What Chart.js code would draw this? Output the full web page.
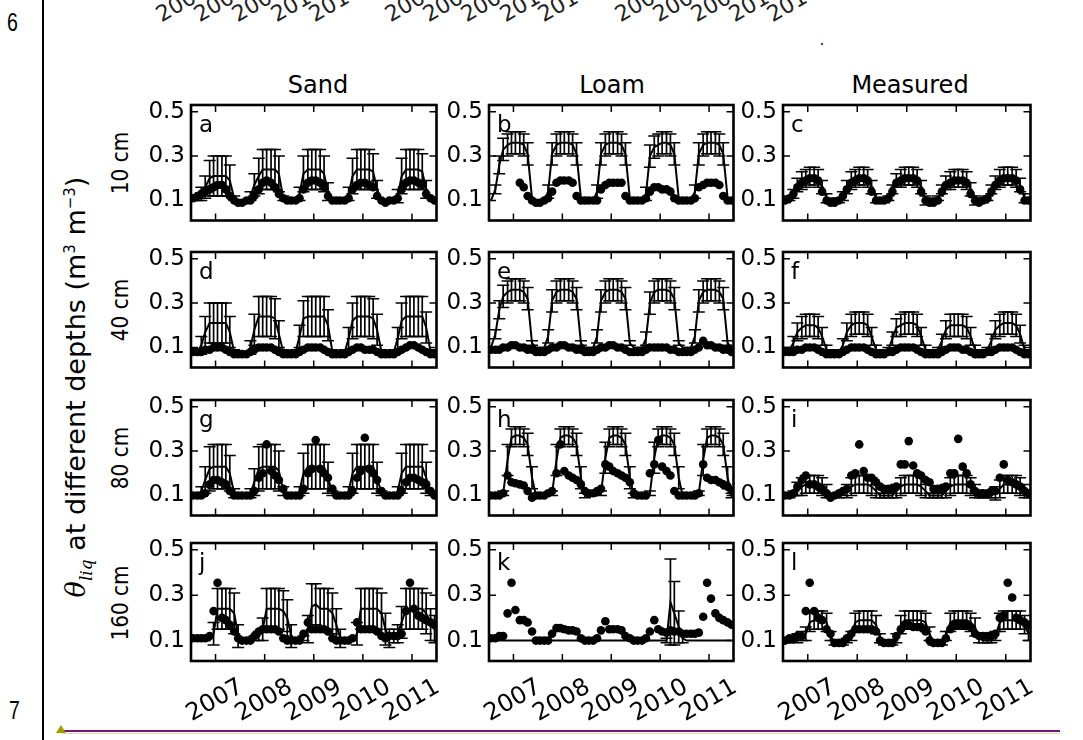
<!DOCTYPE html>
<html><head><meta charset="utf-8">
<script src="https://cdn.jsdelivr.net/npm/chart.js@4.4.0/dist/chart.umd.min.js"></script>
<style>
html,body{margin:0;padding:0;}
body{width:1083px;height:740px;background:#fff;overflow:hidden;position:relative;font-family:"DejaVu Sans",sans-serif;color:#000;}
canvas{position:absolute;}
.abs{position:absolute;white-space:nowrap;}
.rot{transform:translate(-50%,-50%) rotate(-90deg);}
.ctr{transform:translate(-50%,-50%);}
.cut{transform:translate(-50%,-50%) rotate(-30deg);font-size:22px;color:#222;}
.dep{font-size:20px;transform:translate(-50%,-50%) rotate(-90deg) scaleY(1.15);}
</style></head><body>
<div class="abs" style="left:7px;top:7px;font:26px 'Liberation Sans';transform:scaleX(0.75);transform-origin:left top;">6</div>
<div class="abs" style="left:9px;top:695px;font:26px 'Liberation Sans';transform:scaleX(0.75);transform-origin:left top;">7</div>
<div class="abs" style="left:42px;top:0;width:2px;height:740px;background:#000;"></div>
<div class="abs" style="left:62px;top:730px;width:998px;height:2px;background:#7d0f7d;"></div>
<div class="abs" style="left:62px;top:733px;width:998px;height:1px;background:#e6dc9a;"></div>
<div class="abs" style="left:56px;top:725px;width:0;height:0;border-left:5px solid transparent;border-right:5px solid transparent;border-bottom:8px solid #a39a00;"></div>
<div class="abs" style="left:821px;top:43px;width:2px;height:2px;background:#7d0f7d;"></div>

<div class="abs ctr" style="left:318px;top:85px;font-size:24px;">Sand</div>
<div class="abs ctr" style="left:612px;top:85px;font-size:24px;">Loam</div>
<div class="abs ctr" style="left:910px;top:85px;font-size:24px;">Measured</div>

<div class="abs dep" style="left:120px;top:163px;">10 cm</div>
<div class="abs dep" style="left:120px;top:310px;">40 cm</div>
<div class="abs dep" style="left:120px;top:458px;">80 cm</div>
<div class="abs dep" style="left:120px;top:603px;">160 cm</div>
<div class="abs rot" style="left:78px;top:387px;font-size:27px;"><i style="font-family:'DejaVu Serif'">θ</i><sub style="font-family:'DejaVu Serif';font-style:italic;font-size:17px;">liq</sub> at different depths (m<sup style="font-size:15px">3</sup> m<sup style="font-size:15px">−3</sup>)</div>

<script>
// ---------- data ----------
const yearLabels = ['2007','2008','2009','2010','2011'];
const xTickValues = [2007,2008,2009,2010,2011];
const yTickValues = [0.1,0.3,0.5];
const yTickLabels = ['0.1','0.3','0.5'];
const columnTitles = ['Sand','Loam','Measured'];
const depthLabels = ['10 cm','40 cm','80 cm','160 cm'];
const topCutX = [182,220,258,297,335,411,449,487,526,564,641,679,717,755,793];

const months = [
2006.54,2006.63,2006.71,2006.79,2006.88,2006.96,2007.04,2007.13,2007.21,2007.29,2007.38,2007.46,
2007.54,2007.63,2007.71,2007.79,2007.88,2007.96,2008.04,2008.13,2008.21,2008.29,2008.38,2008.46,
2008.54,2008.63,2008.71,2008.79,2008.88,2008.96,2009.04,2009.13,2009.21,2009.29,2009.38,2009.46,
2009.54,2009.63,2009.71,2009.79,2009.88,2009.96,2010.04,2010.13,2010.21,2010.29,2010.38,2010.46,
2010.54,2010.63,2010.71,2010.79,2010.88,2010.96,2011.04,2011.13,2011.21,2011.29,2011.38,2011.46];

// a: Sand 10 cm
const lineA = [
0.10,0.11,0.13,0.16,0.20,0.21,0.21,0.21,0.21,0.19,0.11,0.10,
0.10,0.10,0.12,0.17,0.21,0.24,0.24,0.24,0.24,0.22,0.11,0.10,
0.10,0.10,0.13,0.22,0.24,0.24,0.24,0.24,0.22,0.14,0.10,0.10,
0.10,0.10,0.13,0.21,0.24,0.24,0.24,0.24,0.23,0.15,0.10,0.10,
0.10,0.10,0.12,0.21,0.24,0.24,0.24,0.24,0.23,0.15,0.10,0.10];
const errA = [
0,0.01,0.03,0.05,0.08,0.09,0.09,0.09,0.09,0.07,0.01,0,
0,0,0.02,0.05,0.08,0.09,0.09,0.09,0.09,0.08,0.01,0,
0,0,0.03,0.08,0.09,0.09,0.09,0.09,0.08,0.04,0,0,
0,0,0.03,0.08,0.09,0.09,0.09,0.09,0.08,0.04,0,0,
0,0,0.03,0.08,0.09,0.09,0.09,0.09,0.08,0.04,0,0];
const dotsA = [
0.11,0.12,0.13,0.14,0.15,0.16,0.17,0.17,0.15,0.12,0.10,0.09,
0.09,0.10,0.10,0.12,0.15,0.18,0.19,0.18,0.16,0.13,0.11,0.10,
0.10,0.10,0.11,0.15,0.18,0.19,0.19,0.18,0.16,0.12,0.10,0.10,
0.10,0.10,0.11,0.15,0.17,0.18,0.18,0.17,0.16,0.12,0.10,0.09,
0.10,0.10,0.11,0.15,0.18,0.19,0.19,0.18,0.17,0.13,0.11,0.10];

// b: Loam 10 cm
const lineB = [
0.10,0.15,0.26,0.33,0.35,0.36,0.36,0.36,0.35,0.31,0.11,0.10,
0.10,0.10,0.14,0.31,0.35,0.36,0.36,0.36,0.35,0.31,0.11,0.10,
0.10,0.10,0.14,0.31,0.35,0.36,0.36,0.36,0.35,0.31,0.11,0.10,
0.10,0.10,0.13,0.30,0.34,0.35,0.36,0.36,0.35,0.31,0.11,0.10,
0.10,0.10,0.14,0.31,0.35,0.36,0.36,0.36,0.35,0.31,0.11,0.10];
const errB = [
0,0.02,0.04,0.05,0.05,0.05,0.05,0.05,0.05,0.05,0,0,
0,0,0.03,0.05,0.05,0.05,0.05,0.05,0.05,0.05,0,0,
0,0,0.03,0.05,0.05,0.05,0.05,0.05,0.05,0.05,0,0,
0,0,0.03,0.05,0.05,0.05,0.05,0.05,0.05,0.05,0,0,
0,0,0.03,0.05,0.05,0.05,0.05,0.05,0.05,0.05,0,0];
const dotsB = [
null,null,null,null,null,null,null,0.18,0.16,0.12,0.10,0.09,
0.09,0.10,0.11,0.14,0.18,0.19,0.19,0.19,0.18,0.12,0.10,0.10,
0.10,0.10,0.10,0.15,0.17,0.18,0.18,0.18,0.18,0.12,0.10,0.10,
0.10,0.10,0.11,0.14,0.16,0.16,0.15,0.15,0.14,0.11,0.10,0.10,
0.10,0.10,0.11,0.16,0.17,0.18,0.18,0.18,0.17,0.12,0.10,0.10];

// c: Measured 10 cm
const lineC = [
0.10,0.11,0.13,0.17,0.19,0.20,0.21,0.21,0.20,0.16,0.11,0.10,
0.10,0.10,0.12,0.16,0.19,0.20,0.21,0.21,0.20,0.16,0.11,0.10,
0.10,0.11,0.15,0.19,0.20,0.21,0.21,0.21,0.20,0.16,0.10,0.10,
0.10,0.11,0.15,0.18,0.19,0.20,0.20,0.20,0.19,0.15,0.10,0.10,
0.10,0.11,0.15,0.18,0.20,0.21,0.21,0.21,0.20,0.17,0.11,0.10];
const errC = [
0.01,0.01,0.02,0.03,0.04,0.04,0.04,0.04,0.04,0.03,0.02,0.01,
0.01,0.01,0.02,0.03,0.04,0.04,0.04,0.04,0.04,0.03,0.02,0.01,
0.01,0.01,0.02,0.03,0.04,0.04,0.04,0.04,0.04,0.03,0.02,0.01,
0.01,0.01,0.02,0.03,0.04,0.04,0.04,0.04,0.04,0.03,0.02,0.01,
0.01,0.01,0.02,0.03,0.04,0.04,0.04,0.04,0.04,0.03,0.02,0.01];
const dotsC = [
0.10,0.11,0.13,0.16,0.18,0.19,0.20,0.20,0.19,0.14,0.10,0.09,
0.09,0.10,0.12,0.15,0.18,0.19,0.20,0.20,0.19,0.14,0.10,0.10,
0.10,0.11,0.14,0.18,0.19,0.20,0.20,0.20,0.19,0.14,0.10,0.09,
0.09,0.10,0.14,0.17,0.18,0.19,0.19,0.19,0.18,0.13,0.10,0.09,
0.10,0.11,0.14,0.17,0.19,0.20,0.20,0.20,0.19,0.15,0.10,0.10];

// d: Sand 40 cm
const lineD = [
0.07,0.08,0.11,0.17,0.21,0.21,0.21,0.21,0.21,0.17,0.08,0.07,
0.07,0.07,0.10,0.18,0.24,0.24,0.24,0.24,0.23,0.16,0.08,0.07,
0.07,0.08,0.15,0.23,0.24,0.24,0.24,0.24,0.24,0.20,0.08,0.07,
0.07,0.08,0.14,0.22,0.24,0.24,0.24,0.24,0.23,0.18,0.08,0.07,
0.07,0.08,0.14,0.22,0.24,0.24,0.24,0.24,0.24,0.19,0.08,0.07];
const errD = [
0,0.01,0.04,0.07,0.09,0.09,0.09,0.09,0.09,0.07,0.01,0,
0,0,0.03,0.07,0.09,0.09,0.09,0.09,0.09,0.06,0.01,0,
0,0.01,0.05,0.08,0.09,0.09,0.09,0.09,0.09,0.07,0.01,0,
0,0.01,0.05,0.08,0.09,0.09,0.09,0.09,0.09,0.07,0.01,0,
0,0.01,0.05,0.08,0.09,0.09,0.09,0.09,0.09,0.07,0.01,0];
const dotsD = [
0.08,0.08,0.08,0.09,0.09,0.10,0.10,0.10,0.09,0.08,0.07,0.07,
0.07,0.07,0.08,0.09,0.10,0.10,0.10,0.10,0.09,0.08,0.07,0.07,
0.07,0.07,0.08,0.09,0.10,0.10,0.10,0.10,0.09,0.08,0.07,0.07,
0.07,0.07,0.08,0.09,0.10,0.10,0.09,0.09,0.09,0.08,0.07,0.07,
0.07,0.07,0.08,0.09,0.10,0.11,0.11,0.10,0.09,0.08,0.07,0.07];

// e: Loam 40 cm
const lineE = [
0.10,0.16,0.27,0.33,0.35,0.36,0.36,0.36,0.35,0.32,0.12,0.10,
0.10,0.10,0.15,0.31,0.35,0.36,0.36,0.36,0.35,0.32,0.12,0.10,
0.10,0.10,0.15,0.31,0.35,0.36,0.36,0.36,0.35,0.32,0.12,0.10,
0.10,0.10,0.14,0.30,0.35,0.36,0.36,0.36,0.35,0.32,0.12,0.10,
0.10,0.10,0.15,0.31,0.35,0.36,0.36,0.36,0.35,0.32,0.12,0.10];
const errE = [
0,0.02,0.04,0.05,0.05,0.05,0.05,0.05,0.05,0.05,0.01,0,
0,0,0.03,0.05,0.05,0.05,0.05,0.05,0.05,0.05,0.01,0,
0,0,0.03,0.05,0.05,0.05,0.05,0.05,0.05,0.05,0.01,0,
0,0,0.03,0.05,0.05,0.05,0.05,0.05,0.05,0.05,0.01,0,
0,0,0.03,0.05,0.05,0.05,0.05,0.05,0.05,0.05,0.01,0];
const dotsE = [
0.09,0.09,0.09,0.10,0.10,0.11,0.11,0.10,0.10,0.09,0.09,0.08,
0.08,0.08,0.09,0.10,0.10,0.11,0.11,0.10,0.10,0.09,0.09,0.08,
0.08,0.08,0.09,0.10,0.10,0.11,0.11,0.10,0.10,0.09,0.08,0.08,
0.08,0.08,0.09,0.10,0.10,0.10,0.10,0.10,0.09,0.09,0.08,0.08,
0.08,0.08,0.09,0.10,0.13,0.11,0.11,0.10,0.10,0.09,0.09,0.08];

// f: Measured 40 cm
const lineF = [
0.08,0.09,0.12,0.17,0.19,0.20,0.20,0.20,0.19,0.15,0.09,0.08,
0.08,0.08,0.11,0.17,0.20,0.21,0.21,0.21,0.20,0.15,0.09,0.08,
0.08,0.09,0.14,0.19,0.20,0.21,0.21,0.21,0.20,0.15,0.09,0.08,
0.08,0.09,0.13,0.18,0.20,0.20,0.20,0.20,0.19,0.15,0.09,0.08,
0.08,0.09,0.13,0.18,0.20,0.21,0.21,0.21,0.20,0.16,0.09,0.08];
const errF = [
0.01,0.01,0.03,0.04,0.05,0.05,0.05,0.05,0.05,0.04,0.02,0.01,
0.01,0.01,0.03,0.04,0.05,0.05,0.05,0.05,0.05,0.04,0.02,0.01,
0.01,0.01,0.03,0.04,0.05,0.05,0.05,0.05,0.05,0.04,0.02,0.01,
0.01,0.01,0.03,0.04,0.05,0.05,0.05,0.05,0.05,0.04,0.02,0.01,
0.01,0.01,0.03,0.04,0.05,0.05,0.05,0.05,0.05,0.04,0.02,0.01];
const dotsF = [
0.08,0.08,0.08,0.09,0.09,0.10,0.10,0.10,0.09,0.08,0.07,0.07,
0.07,0.07,0.08,0.09,0.10,0.10,0.10,0.10,0.09,0.08,0.07,0.07,
0.07,0.08,0.08,0.09,0.10,0.10,0.10,0.10,0.09,0.08,0.07,0.07,
0.07,0.07,0.08,0.09,0.10,0.10,0.10,0.09,0.09,0.08,0.07,0.07,
0.07,0.08,0.08,0.09,0.10,0.10,0.10,0.10,0.09,0.08,0.07,0.07];

// g: Sand 80 cm
const lineG = [
0.10,0.10,0.12,0.17,0.22,0.23,0.23,0.23,0.23,0.20,0.11,0.10,
0.10,0.10,0.11,0.16,0.22,0.23,0.23,0.23,0.23,0.21,0.12,0.10,
0.10,0.10,0.12,0.20,0.23,0.23,0.23,0.23,0.23,0.18,0.11,0.10,
0.10,0.10,0.12,0.20,0.23,0.23,0.23,0.23,0.23,0.18,0.11,0.10,
0.10,0.10,0.12,0.20,0.23,0.23,0.23,0.23,0.23,0.18,0.11,0.10];
const errG = [
0,0,0.02,0.06,0.10,0.10,0.10,0.10,0.10,0.08,0.02,0,
0,0,0.02,0.06,0.10,0.10,0.10,0.10,0.10,0.09,0.02,0,
0,0,0.02,0.09,0.10,0.10,0.10,0.10,0.10,0.07,0.01,0,
0,0,0.02,0.09,0.10,0.10,0.10,0.10,0.10,0.07,0.01,0,
0,0,0.02,0.09,0.10,0.10,0.10,0.10,0.10,0.07,0.01,0];
const dotsG = [
0.10,0.10,0.10,0.11,0.15,0.17,0.17,0.16,0.15,0.12,0.10,0.10,
0.10,0.10,0.10,0.12,0.18,0.20,0.33,0.21,0.19,0.17,0.13,0.10,
0.10,0.10,0.10,0.13,0.20,0.22,0.35,0.22,0.20,0.18,0.13,0.10,
0.10,0.10,0.10,0.12,0.18,0.21,0.36,0.22,0.20,0.17,0.12,0.10,
0.10,0.10,0.10,0.12,0.16,0.18,0.18,0.17,0.16,0.15,0.12,0.10];

// h: Loam 80 cm
const lineH = [
0.10,0.10,0.10,0.11,0.26,0.36,0.37,0.37,0.36,0.33,0.18,0.10,
0.10,0.10,0.10,0.11,0.26,0.36,0.37,0.37,0.36,0.33,0.18,0.10,
0.10,0.10,0.10,0.11,0.27,0.36,0.37,0.37,0.36,0.33,0.18,0.10,
0.10,0.10,0.10,0.11,0.27,0.36,0.37,0.37,0.36,0.33,0.18,0.10,
0.10,0.10,0.10,0.11,0.26,0.36,0.37,0.37,0.36,0.33,0.18,0.10];
const errH = [
0,0,0,0.01,0.07,0.04,0.04,0.04,0.04,0.05,0.05,0.01,
0,0,0,0.01,0.07,0.04,0.04,0.04,0.04,0.05,0.05,0.01,
0,0,0,0.01,0.07,0.04,0.04,0.04,0.04,0.05,0.05,0.01,
0,0,0,0.01,0.07,0.04,0.04,0.04,0.04,0.05,0.05,0.01,
0,0,0,0.01,0.07,0.04,0.04,0.04,0.04,0.05,0.05,0.01];
const dotsH = [
0.10,0.10,0.10,0.11,0.19,0.16,0.155,0.15,0.145,0.12,0.09,0.10,
0.10,0.10,0.11,0.12,0.20,0.33,0.21,0.19,0.18,0.17,0.15,0.12,
0.11,0.11,0.12,0.13,0.24,0.23,0.21,0.20,0.19,0.18,0.16,0.11,
0.10,0.10,0.10,0.20,0.24,0.35,0.23,0.21,0.19,0.12,0.10,0.10,
0.10,0.10,0.10,0.11,0.24,0.18,0.17,0.17,0.16,0.15,0.14,0.12];

// i: Measured 80 cm
const lineI = [
0.10,0.10,0.11,0.13,0.14,0.15,0.15,0.15,0.15,0.14,0.12,0.10,
0.10,0.10,0.11,0.12,0.14,0.15,0.15,0.15,0.15,0.14,0.12,0.10,
0.10,0.10,0.10,0.12,0.14,0.15,0.15,0.15,0.15,0.14,0.12,0.10,
0.10,0.10,0.10,0.12,0.14,0.15,0.15,0.15,0.15,0.14,0.12,0.10,
0.10,0.10,0.10,0.11,0.13,0.15,0.15,0.15,0.15,0.14,0.12,0.10];
const errI = [
0.01,0.01,0.01,0.03,0.04,0.04,0.04,0.04,0.04,0.04,0.03,0.01,
0.01,0.01,0.01,0.03,0.04,0.04,0.04,0.04,0.04,0.04,0.03,0.01,
0.01,0.01,0.01,0.03,0.04,0.04,0.04,0.04,0.04,0.04,0.03,0.01,
0.01,0.01,0.01,0.03,0.04,0.04,0.04,0.04,0.04,0.04,0.03,0.01,
0.01,0.01,0.01,0.03,0.04,0.04,0.04,0.04,0.04,0.04,0.03,0.01];
const dotsI = [
0.10,0.10,0.11,0.14,0.17,0.19,0.15,0.15,0.14,0.13,0.11,0.09,
0.10,0.11,0.12,0.13,0.19,0.20,0.33,0.21,0.18,0.18,0.16,0.14,
0.13,0.13,0.13,0.14,0.24,0.24,0.345,0.235,0.20,0.19,0.17,0.16,
0.13,0.13,0.13,0.14,0.20,0.20,0.355,0.23,0.20,0.15,0.12,0.11,
0.11,0.11,0.12,0.12,0.18,0.24,0.17,0.16,0.15,0.14,0.12,0.11];

// j: Sand 160 cm
const lineJ = [
0.10,0.10,0.10,0.10,0.10,0.13,0.24,0.24,0.24,0.24,0.22,0.12,
0.10,0.10,0.10,0.11,0.12,0.15,0.24,0.24,0.24,0.24,0.23,0.20,
0.12,0.10,0.10,0.11,0.15,0.25,0.26,0.24,0.24,0.24,0.22,0.17,
0.11,0.10,0.10,0.10,0.13,0.24,0.24,0.24,0.24,0.24,0.22,0.15,
0.11,0.12,0.13,0.18,0.24,0.24,0.24,0.24,0.24,0.22,0.17,0.15];
const errJ = [
0,0,0,0,0,0.05,0.09,0.09,0.09,0.09,0.09,0.05,
0,0,0,0.01,0.02,0.05,0.09,0.09,0.09,0.09,0.09,0.08,
0.05,0,0,0.01,0.06,0.10,0.09,0.09,0.09,0.09,0.09,0.07,
0.04,0,0,0,0.05,0.09,0.09,0.09,0.09,0.09,0.09,0.07,
0.04,0.03,0.04,0.07,0.09,0.09,0.09,0.09,0.09,0.09,0.07,0.06];
const dotsJ = [
0.11,0.11,0.11,0.11,0.12,0.23,0.355,0.20,0.19,0.17,0.14,0.11,
0.10,0.10,0.10,0.12,0.14,0.15,0.15,0.15,0.15,0.14,0.11,0.10,
0.10,0.10,0.10,0.13,0.18,0.15,0.15,0.15,0.15,0.14,0.11,0.10,
0.10,0.10,0.10,0.11,0.18,0.15,0.15,0.15,0.15,0.14,0.12,0.11,
0.12,0.12,0.12,0.13,0.23,0.355,0.24,0.21,0.20,0.19,0.18,0.17];

// k: Loam 160 cm
const lineK = [
0.10,0.10,0.10,0.10,0.10,0.10,0.10,0.10,0.10,0.10,0.10,0.10,
0.10,0.10,0.10,0.10,0.10,0.10,0.10,0.10,0.10,0.10,0.10,0.10,
0.10,0.10,0.10,0.10,0.10,0.10,0.10,0.10,0.10,0.10,0.10,0.10,
0.10,0.10,0.10,0.10,0.10,0.10,0.10,0.10,0.27,0.22,0.16,0.11,
0.10,0.10,0.10,0.10,0.10,0.10,0.10,0.10,0.10,0.10,0.10,0.10];
const errK = [
0,0,0,0,0,0,0,0,0,0,0,0,
0,0,0,0,0,0,0,0,0,0,0,0,
0,0,0,0,0,0,0,0,0,0,0,0,
0,0,0,0,0,0,0,0.01,0.19,0.14,0.07,0.02,
0,0,0,0,0,0,0,0,0,0,0,0];
const dotsK = [
0.11,0.11,0.12,0.12,0.22,0.355,0.235,0.19,0.19,0.18,0.14,0.10,
0.10,0.10,0.10,0.13,0.155,0.155,0.15,0.145,0.145,0.14,0.11,0.10,
0.10,0.10,0.11,0.145,0.185,0.15,0.15,0.15,0.145,0.12,0.11,0.10,
0.10,0.10,0.11,0.14,0.19,0.15,0.14,0.135,0.145,0.14,0.14,0.13,
0.13,0.13,0.13,0.135,0.205,0.355,0.285,0.22,0.20,0.19,0.18,0.17];

// l: Measured 160 cm
const lineL = [
0.10,0.10,0.11,0.11,0.12,0.13,0.18,0.19,0.19,0.19,0.18,0.12,
0.09,0.09,0.09,0.10,0.12,0.18,0.19,0.19,0.19,0.19,0.17,0.11,
0.09,0.09,0.09,0.11,0.17,0.19,0.19,0.19,0.19,0.19,0.18,0.13,
0.09,0.09,0.09,0.12,0.18,0.19,0.19,0.19,0.19,0.18,0.16,0.11,
0.10,0.10,0.10,0.12,0.18,0.19,0.19,0.19,0.19,0.19,0.17,0.13];
const errL = [
0.01,0.01,0.01,0.02,0.02,0.03,0.04,0.04,0.04,0.04,0.04,0.02,
0.01,0.01,0.01,0.01,0.02,0.04,0.04,0.04,0.04,0.04,0.04,0.02,
0.01,0.01,0.01,0.02,0.04,0.04,0.04,0.04,0.04,0.04,0.04,0.03,
0.01,0.01,0.01,0.02,0.04,0.04,0.04,0.04,0.04,0.04,0.04,0.02,
0.01,0.01,0.01,0.02,0.04,0.04,0.04,0.04,0.04,0.04,0.04,0.03];
const dotsL = [
0.10,0.11,0.11,0.12,0.12,0.23,0.355,0.23,0.20,0.19,0.15,0.13,
0.09,0.09,0.09,0.11,0.13,0.15,0.15,0.15,0.15,0.15,0.14,0.10,
0.09,0.09,0.09,0.12,0.15,0.17,0.17,0.16,0.16,0.16,0.14,0.10,
0.09,0.09,0.09,0.11,0.15,0.17,0.17,0.17,0.17,0.16,0.13,0.12,
0.12,0.12,0.12,0.13,0.20,0.21,0.355,0.29,0.20,0.19,0.18,0.17];

// ---------- layout ----------
const colLeft = [191,489,783], colWidth = [247,246,249];
const rowTop = [105,252,400,543], rowHeight = [117,117,117,118];
const PADL = 60, PADT = 14, PADR = 6, PADB = 6, XAXISH = 78;
const Y_MIN = 0.01, Y_MAX = 0.53, X_MIN = 2006.5, X_MAX = 2011.5;

const panels = [
 ['a',0,0,lineA,errA,dotsA],['b',1,0,lineB,errB,dotsB],['c',2,0,lineC,errC,dotsC],
 ['d',0,1,lineD,errD,dotsD],['e',1,1,lineE,errE,dotsE],['f',2,1,lineF,errF,dotsF],
 ['g',0,2,lineG,errG,dotsG],['h',1,2,lineH,errH,dotsH],['i',2,2,lineI,errI,dotsI],
 ['j',0,3,lineJ,errJ,dotsJ],['k',1,3,lineK,errK,dotsK],['l',2,3,lineL,errL,dotsL]
];

// cut-off labels of the previous figure at top
topCutX.forEach((cx,i)=>{
  const d=document.createElement('div');
  d.className='abs cut'; d.style.left=cx+'px'; d.style.top='2px';
  d.textContent=yearLabels[i%5]; document.body.appendChild(d);
});

const framePlugin = {
  id:'frame',
  afterDatasetsDraw(chart, args, opts){
    const {ctx, chartArea:a, scales:{x,y}} = chart;
    ctx.save();
    ctx.strokeStyle='#000'; ctx.lineWidth=1.5; ctx.beginPath();
    xTickValues.forEach(v=>{const px=x.getPixelForValue(v);
      ctx.moveTo(px,a.bottom); ctx.lineTo(px,a.bottom-7);
      ctx.moveTo(px,a.top); ctx.lineTo(px,a.top+7);});
    yTickValues.forEach(v=>{const py=y.getPixelForValue(v);
      ctx.moveTo(a.left,py); ctx.lineTo(a.left+7,py);
      ctx.moveTo(a.right,py); ctx.lineTo(a.right-7,py);});
    ctx.stroke();
    ctx.lineWidth=2.6;
    ctx.strokeRect(a.left,a.top,a.right-a.left,a.bottom-a.top);
    ctx.fillStyle='#000'; ctx.font='23px "DejaVu Sans"'; ctx.textBaseline='alphabetic'; ctx.textAlign='left';
    ctx.fillText(opts.letter, a.left+8, a.top+27);
    ctx.restore();
  }
};

function buildDatasets(line, err, dots){
  const dotPts=[], linePts=[], barPts=[], capPts=[];
  months.forEach((m,i)=>{
    if(dots[i]!==null) dotPts.push({x:m,y:dots[i]});
    linePts.push({x:m,y:line[i]});
    if(err[i]>0){
      barPts.push({x:m,y:line[i]-err[i]},{x:m,y:line[i]+err[i]},{x:m,y:null});
      capPts.push({x:m,y:line[i]-err[i]},{x:m,y:line[i]+err[i]});
    }
  });
  return [
    {type:'scatter',data:dotPts,pointRadius:4.3,pointBackgroundColor:'#000',pointBorderWidth:0,order:0},
    {type:'line',data:linePts,borderColor:'#000',borderWidth:2,pointRadius:0,tension:0,order:1},
    {type:'line',data:barPts,borderColor:'#000',borderWidth:1.7,pointRadius:0,spanGaps:false,order:2},
    {type:'scatter',data:capPts,pointStyle:'line',pointRadius:6,pointBorderColor:'#000',pointBorderWidth:1.5,order:3}
  ];
}

Chart.defaults.font.family='"DejaVu Sans"';
panels.forEach(([letter,col,row,line,err,dots])=>{
  const bottomRow = row===3;
  const cv=document.createElement('canvas');
  const w=PADL+colWidth[col]+PADR, h=PADT+rowHeight[row]+(bottomRow?XAXISH:PADB);
  cv.width=w; cv.height=h;
  cv.style.left=(colLeft[col]-PADL)+'px'; cv.style.top=(rowTop[row]-PADT)+'px';
  cv.style.width=w+'px'; cv.style.height=h+'px';
  document.body.appendChild(cv);
  new Chart(cv,{
    type:'scatter',
    data:{datasets:buildDatasets(line,err,dots)},
    options:{
      responsive:false, animation:false, devicePixelRatio:1, events:[],
      layout:{padding:{left:0,top:PADT,right:PADR,bottom:bottomRow?0:PADB}},
      plugins:{legend:{display:false},tooltip:{enabled:false},frame:{letter}},
      scales:{
        x:{type:'linear',min:X_MIN,max:X_MAX,display:bottomRow,
           grid:{display:false,drawTicks:false},border:{display:false},
           ticks:{color:'#000',font:{size:24},minRotation:30,maxRotation:30,autoSkip:false,padding:12,labelOffset:26,
                  callback:(v,i)=>yearLabels[i]},
           afterBuildTicks:s=>{s.ticks=xTickValues.map(v=>({value:v}));},
           afterFit:s=>{ if(bottomRow){s.height=XAXISH;} s.paddingLeft=0; s.paddingRight=0;}},
        y:{type:'linear',min:Y_MIN,max:Y_MAX,position:'left',
           grid:{display:false,drawTicks:false},border:{display:false},
           ticks:{color:'#000',font:{size:23},padding:6,callback:(v,i)=>yTickLabels[i]},
           afterBuildTicks:s=>{s.ticks=yTickValues.map(v=>({value:v}));},
           afterFit:s=>{s.width=PADL;s.paddingTop=0;s.paddingBottom=0;}}
      }
    },
    plugins:[framePlugin]
  });
});
</script>
</body></html>
